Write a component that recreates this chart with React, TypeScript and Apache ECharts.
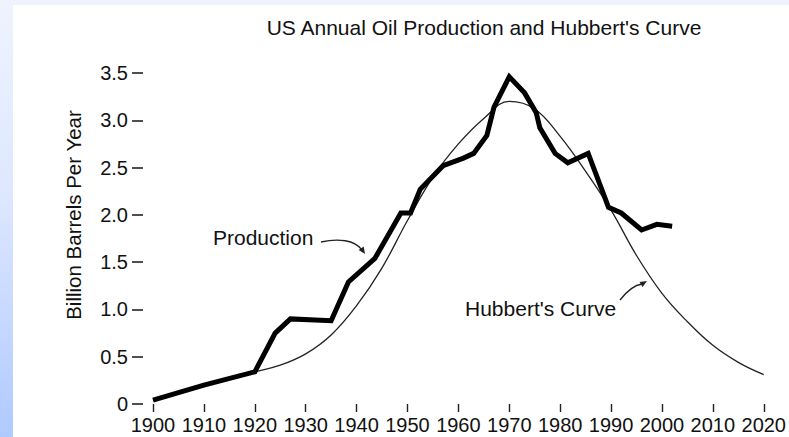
import React, { useEffect, useRef } from "react";
import * as echarts from "echarts";

const titleText = "US Annual Oil Production and Hubbert's Curve";
const yAxisName = "Billion Barrels Per Year";
const productionLabel = "Production";
const hubbertLabel = "Hubbert's Curve";

const yTicks = [0, 0.5, 1.0, 1.5, 2.0, 2.5, 3.0, 3.5];
const xTicks = [1900, 1910, 1920, 1930, 1940, 1950, 1960, 1970, 1980, 1990, 2000, 2010, 2020];

const productionYears = [1900, 1910, 1920, 1924, 1927, 1935, 1938.4, 1943.6, 1948.7, 1950.6, 1952.5, 1957, 1961, 1963, 1965.6, 1967, 1970, 1973, 1975.3, 1976, 1979, 1981.5, 1985.5, 1989.5, 1992, 1996, 1999, 2002];
const productionValues = [0.04, 0.2, 0.34, 0.75, 0.9, 0.88, 1.29, 1.54, 2.02, 2.02, 2.27, 2.52, 2.6, 2.65, 2.84, 3.14, 3.46, 3.29, 3.08, 2.92, 2.65, 2.55, 2.65, 2.08, 2.02, 1.84, 1.9, 1.88];

const hubbertYears = [1900, 1905, 1910, 1915, 1920, 1925, 1930, 1935, 1940, 1945, 1950, 1955, 1960, 1965, 1970, 1975, 1980, 1985, 1990, 1995, 2000, 2005, 2010, 2015, 2020];
const hubbertValues = [0.04, 0.12, 0.2, 0.27, 0.34, 0.41, 0.53, 0.73, 1.04, 1.44, 1.94, 2.4, 2.75, 3.02, 3.2, 3.12, 2.83, 2.46, 2.05, 1.57, 1.17, 0.87, 0.62, 0.44, 0.31];

const FONT = "'Liberation Sans', Arial, Helvetica, sans-serif";

export default function App() {
  const ref = useRef<HTMLDivElement>(null);

  useEffect(() => {
    document.body.style.margin = "0";
    if (!ref.current) return;
    const chart = echarts.init(ref.current, undefined, { renderer: "svg" });
    const prodData = productionYears.map((y, i) => [y, productionValues[i]]);
    const hubData = hubbertYears.map((y, i) => [y, hubbertValues[i]]);
    chart.setOption({
      animation: false,
      backgroundColor: "#ffffff",
      grid: { left: 140, right: 20, top: 68, bottom: 33, containLabel: false },
      xAxis: {
        type: "value",
        min: xTicks[0],
        max: xTicks[xTicks.length - 1],
        interval: 10,
        splitLine: { show: false },
        axisLine: { show: false },
        axisTick: { show: true, length: 8, lineStyle: { color: "#222", width: 1.4 } },
        axisLabel: {
          margin: 11,
          color: "#111",
          fontSize: 20,
          fontFamily: FONT,
          formatter: (v: number) => String(v),
        },
      },
      yAxis: {
        type: "value",
        min: yTicks[0],
        max: yTicks[yTicks.length - 1],
        interval: 0.5,
        offset: 10,
        splitLine: { show: false },
        axisLine: { show: false },
        axisTick: { show: true, length: 11, lineStyle: { color: "#222", width: 1.6 } },
        axisLabel: {
          margin: 15,
          color: "#111",
          fontSize: 20,
          fontFamily: FONT,
          formatter: (v: number) => (v === 0 ? "0" : v.toFixed(1)),
        },
      },
      series: [
        {
          name: "Hubbert",
          type: "line",
          data: hubData,
          smooth: 0.4,
          showSymbol: false,
          z: 2,
          lineStyle: { color: "#222", width: 1.3 },
        },
        {
          name: "Production",
          type: "line",
          data: prodData,
          smooth: false,
          showSymbol: false,
          z: 3,
          lineStyle: { color: "#000000", width: 5, join: "miter", miterLimit: 4 },
        },
      ],
      graphic: [
        {
          type: "text",
          x: 471,
          y: 22,
          style: { text: titleText, font: `21px ${FONT}`, fill: "#111", textAlign: "center", textVerticalAlign: "middle" },
        },
        {
          type: "text",
          x: 60,
          y: 210,
          rotation: Math.PI / 2,
          style: { text: yAxisName, font: `20.5px ${FONT}`, fill: "#111", textAlign: "center", textVerticalAlign: "middle" },
        },
        {
          type: "text",
          x: 200,
          y: 232,
          style: { text: productionLabel, font: `21px ${FONT}`, fill: "#111", textAlign: "left", textVerticalAlign: "middle" },
        },
        {
          type: "text",
          x: 452,
          y: 303,
          style: { text: hubbertLabel, font: `21px ${FONT}`, fill: "#111", textAlign: "left", textVerticalAlign: "middle" },
        },
        {
          type: "bezierCurve",
          shape: { x1: 308, y1: 237, cpx1: 325, cpy1: 233, cpx2: 342, cpy2: 235, x2: 349, y2: 245 },
          style: { stroke: "#222", lineWidth: 1.3, fill: "none" },
        },
        {
          type: "polygon",
          shape: { points: [[352, 249], [345.7, 244.9], [350.7, 241.5]] },
          style: { fill: "#222" },
        },
        {
          type: "bezierCurve",
          shape: { x1: 607, y1: 295, cpx1: 614, cpy1: 286, cpx2: 622, cpy2: 280, x2: 629, y2: 279 },
          style: { stroke: "#222", lineWidth: 1.3, fill: "none" },
        },
        {
          type: "polygon",
          shape: { points: [[634, 276], [629.55, 282.05], [626.55, 276.95]] },
          style: { fill: "#222" },
        },
      ],
    });
    return () => chart.dispose();
  }, []);

  return (
    <div
      style={{
        position: "relative",
        width: 789,
        height: 437,
        overflow: "hidden",
        background: "linear-gradient(180deg, #eff3fe 0%, #dde7fe 45%, #afcaff 100%)",
      }}
    >
      <div ref={ref} style={{ position: "absolute", left: 13, top: 5, width: 776, height: 432, background: "#fff" }} />
    </div>
  );
}
